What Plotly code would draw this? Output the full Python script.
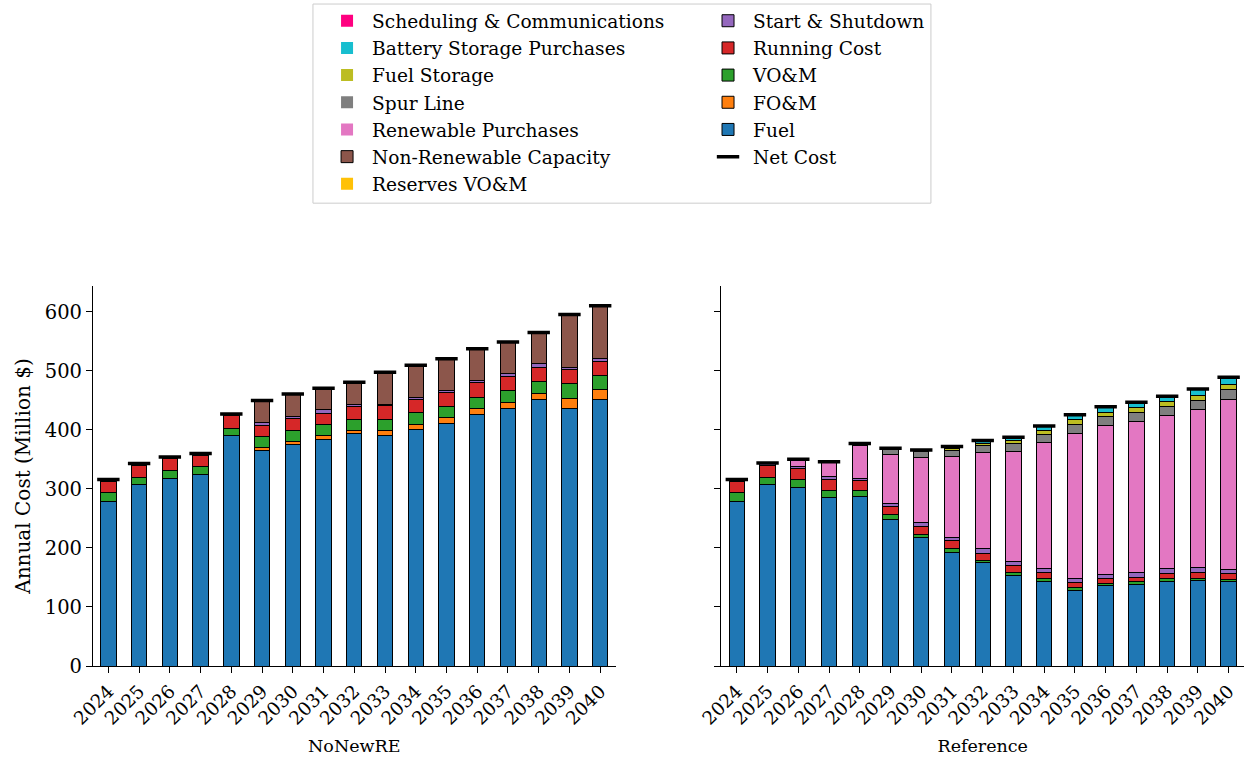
import plotly.graph_objects as go
from plotly.subplots import make_subplots

years = [str(y) for y in range(2024, 2041)]

# ---- NoNewRE scenario (Million $) ----
nn_fuel = [278, 307, 318, 324, 390, 365, 376, 384, 394, 390, 401, 411, 426, 437, 452, 437, 452]
nn_fom = [0, 0, 0, 0, 0, 5, 5, 6, 5.5, 9, 9, 10.5, 9.6, 10, 10, 16.7, 15.8]
nn_vom = [16, 13, 13, 14, 13, 19, 18.5, 19, 18.5, 19, 19, 18.5, 19.8, 20, 20.5, 25.3, 25.2]
nn_run = [19, 20, 20, 18, 21, 19, 19.5, 19, 21, 22.7, 23, 22.7, 24.3, 24, 23.5, 22.7, 23.4]
nn_start = [3, 3, 3, 4, 3, 4, 4, 6, 4.5, 3.3, 3.4, 5, 4.3, 4.5, 6, 3.9, 4.5]
nn_reserves = [0] * 17
nn_nonren = [0, 0, 0, 0, 0, 38, 38, 36.6, 37.5, 53.7, 54.2, 53, 53.8, 53.5, 53, 89.9, 89.8]
nn_renew = [0] * 17
nn_spur = [0] * 17
nn_fuelstor = [0] * 17
nn_batt = [0] * 17
nn_sched = [0] * 17

# ---- Reference scenario (Million $) ----
rf_fuel = [278, 307, 303, 286, 288, 248.6, 217.5, 192.7, 174.6, 153.7, 143.5, 128.2, 135.6, 137.8, 144, 144.6, 142.4]
rf_fom = [0] * 17
rf_vom = [16, 13, 13, 12, 9, 8, 6.2, 6.7, 4, 4.3, 4.5, 5.1, 3.9, 4.6, 4, 4.4, 4.6]
rf_run = [19, 20, 19, 18.7, 17, 13.5, 13, 12.5, 12.5, 11.5, 10, 8.5, 8.5, 8.4, 9, 9, 9]
rf_start = [3, 4, 3.4, 3.9, 4, 5.7, 6.3, 6.1, 8.4, 7.3, 7.5, 6.8, 7.4, 8, 8.5, 8.6, 8]
rf_reserves = [0] * 17
rf_nonren = [0] * 17
rf_renew = [0, 0, 12, 25.5, 55, 82.3, 110.7, 136.8, 162.2, 187, 212.5, 245.8, 252.6, 255.9, 259.5, 268.4, 288]
rf_spur = [0, 0, 0, 0, 3, 8, 9.3, 10.2, 11.8, 13, 13.5, 15.6, 14.6, 15.3, 14.5, 15, 15.8]
rf_fuelstor = [0, 0, 0, 0, 1, 3, 3, 3.4, 4, 5.7, 6.8, 8, 7.4, 8.5, 9.1, 9, 9.6]
rf_batt = [0, 0, 0, 0, 0, 0, 0, 3.4, 4.6, 5.1, 8.5, 8, 9.5, 8.5, 8.4, 10.5, 11.9]
rf_sched = [0] * 17

# component names (stack order bottom -> top), colours, legend column and rank
names = ["Fuel", "FO&M", "VO&M", "Running Cost", "Start & Shutdown", "Reserves VO&M",
         "Non-Renewable Capacity", "Renewable Purchases", "Spur Line", "Fuel Storage",
         "Battery Storage Purchases", "Scheduling & Communications"]
colors = ["#1f77b4", "#ff7f0e", "#2ca02c", "#d62728", "#9467bd", "#ffc107",
          "#8c564b", "#e377c2", "#7f7f7f", "#bcbd22", "#17becf", "#ff0080"]
legend_ids = ["legend2", "legend2", "legend2", "legend2", "legend2", "legend",
              "legend", "legend", "legend", "legend", "legend", "legend"]
ranks = [5, 4, 3, 2, 1, 7, 6, 5, 4, 3, 2, 1]

nn_series = [nn_fuel, nn_fom, nn_vom, nn_run, nn_start, nn_reserves, nn_nonren,
             nn_renew, nn_spur, nn_fuelstor, nn_batt, nn_sched]
rf_series = [rf_fuel, rf_fom, rf_vom, rf_run, rf_start, rf_reserves, rf_nonren,
             rf_renew, rf_spur, rf_fuelstor, rf_batt, rf_sched]

FONT = "DejaVu Serif"

fig = make_subplots(rows=1, cols=2, shared_yaxes=False, horizontal_spacing=0.092)

for col, series in ((1, nn_series), (2, rf_series)):
    for name, color, lid, rank, vals in zip(names, colors, legend_ids, ranks, series):
        allzero = all(v == 0 for v in vals)
        fig.add_trace(go.Bar(
            x=years, y=vals, name=name, legendgroup=name, legendrank=rank, legend=lid,
            showlegend=(col == 1),
            marker=dict(color=color, line=dict(color="black", width=0 if allzero else 1)),
            width=0.5,
        ), row=1, col=col)
    totals = [sum(v[i] for v in series) for i in range(len(years))]
    fig.add_trace(go.Scatter(
        x=years, y=totals, mode="markers", name="Net Cost", legendgroup="Net Cost",
        legendrank=6, legend="legend2", showlegend=(col == 1),
        marker=dict(symbol="line-ew", size=16, line=dict(color="black", width=3.5), color="black"),
    ), row=1, col=col)

leg_common = dict(orientation="v", traceorder="normal", yanchor="top", y=1.747,
                  xanchor="left", borderwidth=0, bgcolor="rgba(0,0,0,0)",
                  font=dict(family=FONT, size=18.6, color="black"),
                  tracegroupgap=0, itemwidth=40)

fig.update_layout(
    width=1244, height=759,
    barmode="stack",
    bargap=0.5,
    plot_bgcolor="white", paper_bgcolor="white",
    margin=dict(l=93, r=0, t=286, b=93),
    font=dict(family=FONT, color="black", size=18),
    legend=dict(x=0.199, **leg_common),
    legend2=dict(x=0.530, **leg_common),
    shapes=[dict(type="rect", xref="paper", yref="paper",
                 x0=0.1911, x1=0.728, y0=1.218, y1=1.742,
                 line=dict(color="#cccccc", width=1), fillcolor="rgba(0,0,0,0)")],
)

axis_common = dict(showline=True, linecolor="black", linewidth=1.2, ticks="outside",
                   ticklen=6, tickcolor="black", showgrid=False, zeroline=False)

fig.update_xaxes(**axis_common, tickangle=-45, tickfont=dict(size=18.5, family=FONT),
                 range=[-0.5, 16.5])
fig.update_xaxes(title=dict(text="NoNewRE", font=dict(size=17.5, family=FONT), standoff=12), row=1, col=1)
fig.update_xaxes(title=dict(text="Reference", font=dict(size=17.5, family=FONT), standoff=12), row=1, col=2)
fig.update_yaxes(**axis_common, range=[0, 644], tickvals=[0, 100, 200, 300, 400, 500, 600],
                 tickfont=dict(size=19.5, family=FONT))
fig.update_yaxes(title=dict(text="Annual Cost (Million $)", font=dict(size=20, family=FONT), standoff=8), row=1, col=1)
fig.update_yaxes(showticklabels=False, row=1, col=2)

fig.write_html("out.html", config={"displayModeBar": False},
               post_script="document.body.style.margin='0';")
